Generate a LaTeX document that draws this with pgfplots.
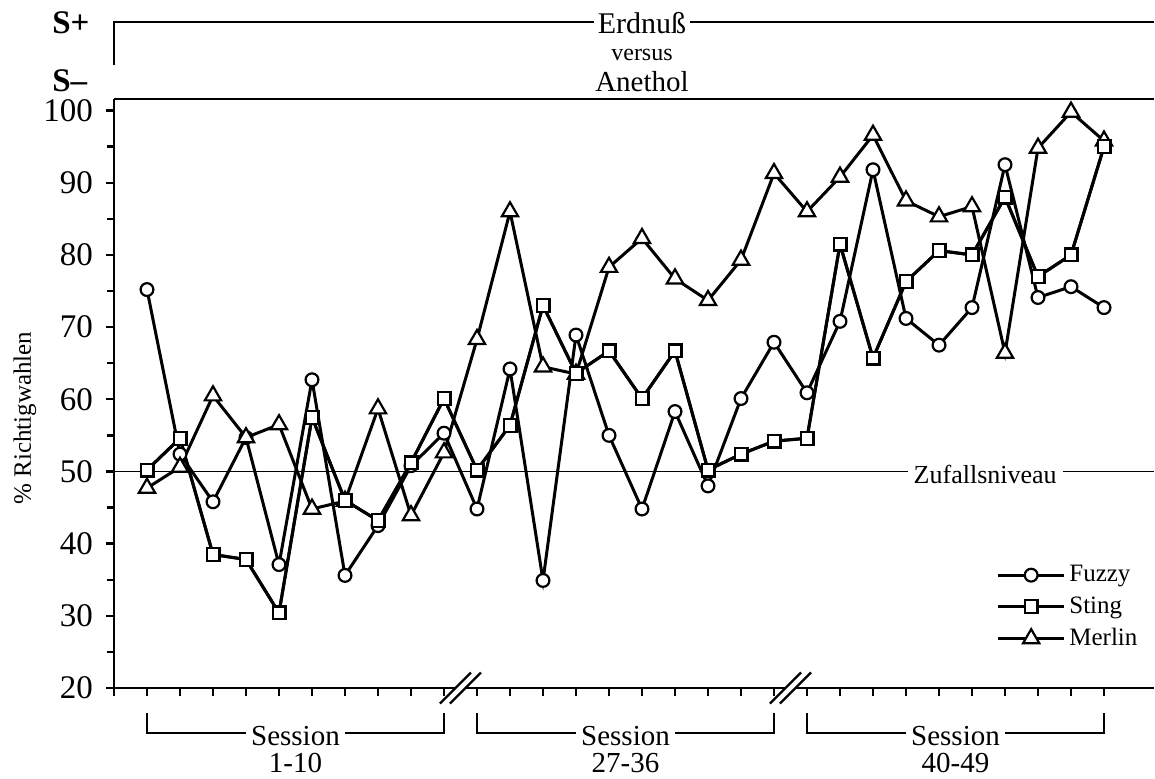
\documentclass[border=0pt]{standalone}
\usepackage{pgfplots}
\usepackage{pgfplotstable}
\pgfplotsset{compat=1.18}
\usepackage{fontspec}
\setmainfont{Liberation Serif}

\pgfplotstableread{
x fuzzy sting merlin
1  75.2 50.2 47.7
2  52.4 54.6 50.6
3  45.8 38.5 60.5
4  54.7 37.8 54.7
5  37.1 30.4 56.5
6  62.7 57.5 44.8
7  35.6 46.0 45.9
8  42.5 43.2 58.7
9  50.8 51.2 43.9
10 55.3 60.1 52.6
11 44.8 50.2 68.3
12 64.2 56.4 86.0
13 34.9 73.0 64.5
14 68.9 63.6 63.5
15 55.0 66.7 78.3
16 44.8 60.1 82.3
17 58.3 66.7 76.7
18 48.0 50.2 73.7
19 60.1 52.4 79.3
20 67.9 54.2 91.3
21 60.9 54.6 86.0
22 70.8 81.5 90.8
23 91.8 65.7 96.6
24 71.2 76.3 87.5
25 67.5 80.6 85.3
26 72.7 80.0 86.7
27 92.5 88.0 66.4
28 74.1 77.0 94.8
29 75.6 80.0 99.8
30 72.7 95.0 95.8
}\datatable

\newcommand{\axisbreak}[1]{%
  \fill[white] ([shift={(-10.25pt,-7.75pt)}]axis cs:#1,20) -- ([shift={(5.25pt,7.75pt)}]axis cs:#1,20) -- ([shift={(10.25pt,7.75pt)}]axis cs:#1,20) -- ([shift={(-5.25pt,-7.75pt)}]axis cs:#1,20) -- cycle;
  \draw[line width=1.1pt] ([shift={(-10.25pt,-7.75pt)}]axis cs:#1,20) -- ([shift={(5.25pt,7.75pt)}]axis cs:#1,20);
  \draw[line width=1.1pt] ([shift={(-5.25pt,-7.75pt)}]axis cs:#1,20) -- ([shift={(10.25pt,7.75pt)}]axis cs:#1,20);
}
\newcommand{\sessionbracket}[4]{%
  \draw[line width=1pt] (axis cs:#1,16.54) -- (axis cs:#1,13.77) -- (axis cs:#2,13.77) -- (axis cs:#2,16.54);
  \node[fill=white, inner sep=2.5pt, anchor=base, font=\fontsize{14.5}{16}\selectfont] at (axis cs:#3,12.1) {Session};
  \node[inner sep=0pt, anchor=base, font=\fontsize{14.5}{16}\selectfont] at (axis cs:#3,8.3) {#4};
}
\pgfplotsset{
  mylegimg/.style={legend image code/.code={\draw[mark repeat=2,mark phase=2] plot coordinates {(0cm,0cm)(0.575cm,0cm)(1.15cm,0cm)};}},
}

\begin{document}
\begin{tikzpicture}
\useasboundingbox (-57pt,-45pt) rectangle (520.5pt,344pt);
\begin{axis}[
  at={(0pt,0pt)}, anchor=south west,
  scale only axis, width=519.75pt, height=294.5pt,
  xmin=0, xmax=31.5, ymin=20, ymax=101.6,
  axis x line*=bottom, axis y line*=left,
  axis line style={line width=1.2pt, -},
  xtick={0,...,30}, xticklabels={},
  ytick={20,30,...,100}, minor ytick={25,35,...,95},
  tick align=outside, major tick length=4pt, minor tick length=3.6pt,
  every tick/.style={black, line width=1.2pt},
  every minor tick/.style={black, line width=1.2pt},
  yticklabel style={font=\fontsize{16.5}{18}\selectfont, xshift=-3pt},
  /pgf/number format/assume math mode=true,
  clip=false,
  legend style={draw=none, fill=none, at={(0.849,0.2155)}, anchor=north west,
    font=\fontsize{12.5}{15}\selectfont, row sep=2pt, inner sep=0pt},
  legend cell align=left,
  every axis plot/.append style={line width=1.5pt, black},
]
% chance line
\draw[line width=0.5pt] (axis cs:0,50) -- (axis cs:31.5,50);
\node[fill=white, inner sep=3pt, font=\fontsize{13}{15}\selectfont, yshift=-1.5pt] at (axis cs:26.4,50) {Zufallsniveau};
% top frame line
\draw[line width=1.2pt] (axis cs:0,101.6) -- (axis cs:31.5,101.6);

\addplot[mylegimg, mark=*, mark size=3.2pt, mark options={fill=white, solid, line width=1.1pt}] table[x=x, y=fuzzy] {\datatable};
\addlegendentry{Fuzzy}
\addplot[mylegimg, mark=square*, mark size=3.2pt, mark options={fill=white, solid, line width=1.1pt}] table[x=x, y=sting] {\datatable};
\addlegendentry{Sting}
\addplot[mylegimg, mark=triangle*, mark size=4.7pt, mark options={fill=white, solid, line width=1.1pt}] table[x=x, y=merlin] {\datatable};
\addlegendentry{Merlin}
\addplot[forget plot, mark=square*, mark size=3.2pt, mark options={fill=white, solid, line width=1.1pt}] table[x=x, y=sting] {\datatable};

% axis breaks
\axisbreak{10.5}
\axisbreak{20.5}

% session brackets
\sessionbracket{1}{10}{5.5}{1-10}
\sessionbracket{11}{20}{15.5}{27-36}
\sessionbracket{21}{30}{25.5}{40-49}

% top annotation
\draw[line width=1pt] (axis cs:0,106.3) -- (axis cs:0,112.24) -- (axis cs:31.5,112.24);
\node[fill=white, inner sep=2pt, anchor=base, font=\fontsize{15}{17}\selectfont] at (axis cs:16,110.7) {Erdnuß};
\node[inner sep=0pt, anchor=base, font=\fontsize{12}{14}\selectfont] at (axis cs:16,106.98) {versus};
\node[inner sep=0pt, anchor=base, font=\fontsize{14.5}{16}\selectfont] at (axis cs:16,102.7) {Anethol};
\node[inner sep=0pt, anchor=base west, font=\fontsize{16.5}{18}\selectfont\bfseries] at (axis cs:-1.88,110.7) {S+};
\node[inner sep=0pt, anchor=base west, font=\fontsize{16.5}{18}\selectfont\bfseries] at (axis cs:-1.88,102.7) {S–};

% y label
\node[rotate=90, inner sep=0pt, font=\fontsize{12.5}{15}\selectfont] at (axis cs:-2.70,57.4) {\% Richtigwahlen};
\end{axis}
\end{tikzpicture}
\end{document}
